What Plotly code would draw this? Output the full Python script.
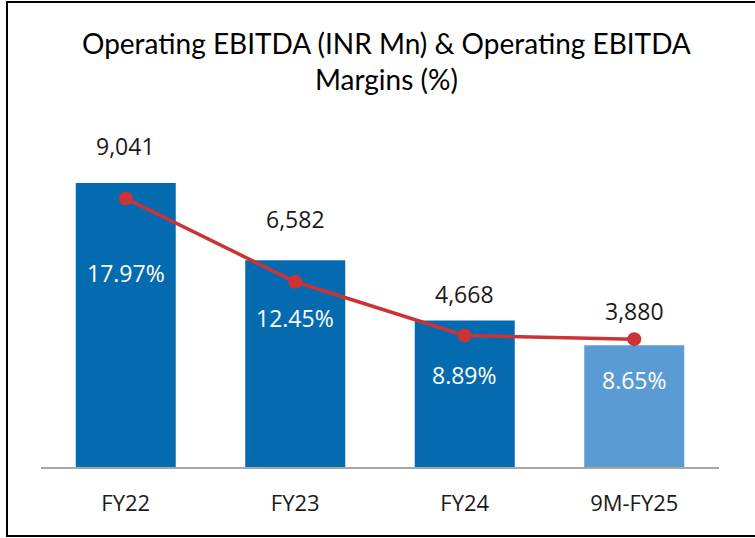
import plotly.graph_objects as go

W, H = 755, 538

categories = ["FY22", "FY23", "FY24", "9M-FY25"]
ebitda = [9041, 6582, 4668, 3880]
margin_pct = [17.97, 12.45, 8.89, 8.65]
ebitda_labels = ["9,041", "6,582", "4,668", "3,880"]
margin_labels = ["17.97%", "12.45%", "8.89%", "8.65%"]

bar_colors = ["#046BB0", "#046BB0", "#046BB0", "#5B9BD5"]
line_color = "#CC3336"

# pixel offsets of the labels, as placed in the original
value_shift = [37, 41, 26, 34]
pct_shift = [-75, -36, -39, -41]


def px_x(p):
    return p / W


def px_y(p):
    return (H - p) / H


fig = go.Figure()
fig.add_trace(go.Bar(
    x=categories, y=ebitda,
    marker=dict(color=bar_colors, line=dict(width=0)),
    width=0.59, hoverinfo="x+y", showlegend=False,
))
fig.add_trace(go.Scatter(
    x=categories, y=margin_pct, yaxis="y2",
    mode="lines+markers",
    line=dict(color=line_color, width=3.5),
    marker=dict(color=line_color, size=14),
    showlegend=False,
))

annotations = []
for i, c in enumerate(categories):
    annotations.append(dict(
        x=c, y=ebitda[i], xref="x", yref="y", text=ebitda_labels[i],
        showarrow=False, yshift=value_shift[i], yanchor="middle",
        font=dict(family="Open Sans", size=23, color="#1a1a1a"),
    ))
    annotations.append(dict(
        x=c, y=margin_pct[i], xref="x", yref="y2", text=margin_labels[i],
        showarrow=False, yshift=pct_shift[i], yanchor="middle",
        font=dict(family="Open Sans", size=23, color="white"),
    ))

annotations.append(dict(
    x=px_x(386), y=px_y(61), xref="paper", yref="paper",
    text="Operating EBITDA (INR Mn) & Operating EBITDA<br>Margins (%)",
    showarrow=False, xanchor="center", yanchor="middle",
    font=dict(family="Lato", size=28, color="black"),
))

fig.update_layout(
    width=W, height=H,
    margin=dict(l=0, r=0, t=0, b=0),
    paper_bgcolor="white", plot_bgcolor="white",
    bargap=0.41,
    xaxis=dict(
        domain=[px_x(41), px_x(719)],
        showline=True, linecolor="#A6A6A6", linewidth=2,
        showgrid=False, ticks="", ticklabelstandoff=16,
        tickfont=dict(family="Open Sans", size=22, color="#1a1a1a"),
    ),
    yaxis=dict(
        domain=[px_y(467), px_y(153)],
        range=[0, 10000], visible=False, showgrid=False,
    ),
    yaxis2=dict(
        overlaying="y", side="right",
        range=[0.18, 20.98], visible=False, showgrid=False,
    ),
    annotations=annotations,
    shapes=[dict(
        type="rect", xref="paper", yref="paper",
        x0=px_x(7), x1=px_x(770), y0=px_y(536), y1=px_y(2),
        line=dict(color="black", width=2),
    )],
)

fig.write_html("out.html", config={"displayModeBar": False},
               post_script="document.body.style.margin='0';")
